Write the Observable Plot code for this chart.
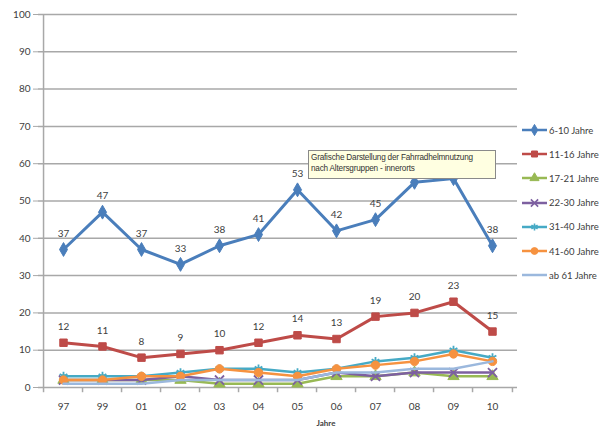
<!DOCTYPE html>
<html>
<head>
<meta charset="utf-8">
<script src="https://cdn.jsdelivr.net/npm/d3@7"></script>
<script src="https://cdn.jsdelivr.net/npm/@observablehq/plot@0.6"></script>
<style>
  body { margin: 0; background: #fff; }
  #wrap { position: relative; width: 607px; height: 432px; font-family: Lato, "Open Sans", sans-serif; }
  #tip { position: absolute; left: 308px; top: 150px; width: 184px; height: 26px; background: #ffffe1; border: 1px solid #8a8a8a;
         font: 8.2px "Liberation Sans", Arial, sans-serif; line-height: 11px; padding: 1px 0 0 2px; color: #333; letter-spacing: -0.2px; white-space: nowrap; }
  #legend { position: absolute; left: 521px; top: 0; }
  .li { position: absolute; left: 0; display: flex; align-items: center; font-size: 9.5px; color: #404040; white-space: nowrap; }
</style>
</head>
<body>
<div id="wrap"></div>
<script>
const years = ["97","99","01","02","03","04","05","06","07","08","09","10"];
const s6_10  = [37,47,37,33,38,41,53,42,45,55,56,38];
const s11_16 = [12,11,8,9,10,12,14,13,19,20,23,15];
const s17_21 = [2,2,2,2,1,1,1,3,3,4,3,3];
const s22_30 = [2,2,2,3,2,2,2,4,3,4,4,4];
const s31_40 = [3,3,3,4,5,5,4,5,7,8,10,8];
const s41_60 = [2,2,3,3,5,4,3,5,6,7,9,7];
const s61    = [1,1,1,2,2,2,2,4,4,5,5,7];
// data labels as visible in the reference (08 and 09 of 6-10 Jahre are hidden behind the note)
const labels6_10  = ["37","47","37","33","38","41","53","42","45","","","38"];
const labels11_16 = ["12","11","8","9","10","12","14","13","19","20","23","15"];
const seriesNames = ["6-10 Jahre","11-16 Jahre","17-21 Jahre","22-30 Jahre","31-40 Jahre","41-60 Jahre","ab 61 Jahre"];
const yTicks = [0,10,20,30,40,50,60,70,80,90,100];
const tipLines = ["Grafische Darstellung der Fahrradhelmnutzung", "nach Altersgruppen - innerorts"];
const xLabel = "Jahre";

const seriesVals = [s6_10, s11_16, s17_21, s22_30, s31_40, s41_60, s61];
const seriesLabels = [labels6_10, labels11_16, null, null, null, null, null];
const colors = ["#4a7ebb","#be4b48","#98b954","#7d60a0","#46aac5","#f69240","#9bb8dd"];
const symbols = ["diamond","square","triangle","times","asterisk","circle",null];
const filled = [true,true,true,false,false,true,false];
const widths = [3,3,2.5,2.5,2.5,2.5,2.5];

const W = 607, H = 432, mL = 38, mR = 90, mT = 14, mB = 45;
const step = (W - mL - mR) / years.length;

const marks = [
  Plot.ruleY(yTicks, {stroke: "#a8a8a8", strokeWidth: 1.5}),
  Plot.ruleX([years[0]], {dx: -step/2, y1: 0, y2: 100, stroke: "#a8a8a8", strokeWidth: 1.5}),
  Plot.ruleX(years, {dx: -step/2, y1: 0, y2: -1.4, stroke: "#a8a8a8", strokeWidth: 1.5}),
  Plot.ruleX([years[years.length-1]], {dx: step/2, y1: 0, y2: -1.4, stroke: "#a8a8a8", strokeWidth: 1.5}),
  Plot.axisY({ticks: yTicks, tickSize: 5, tickPadding: 3, fontSize: 10, color: "#404040", stroke: "#a8a8a8", label: null}),
  Plot.axisX({tickSize: 0, tickPadding: 15, fontSize: 10, color: "#404040", label: null}),
];

seriesVals.forEach((vals, i) => {
  const rows = years.map((y, j) => ({year: y, value: vals[j], label: seriesLabels[i] ? seriesLabels[i][j] : ""}));
  marks.push(Plot.line(rows, {x: "year", y: "value", stroke: colors[i], strokeWidth: widths[i]}));
  if (symbols[i]) {
    marks.push(Plot.dot(rows, {x: "year", y: "value", symbol: () => symbols[i], r: 4.2,
      fill: filled[i] ? colors[i] : "none", stroke: colors[i], strokeWidth: filled[i] ? 1 : 1.8}));
  }
  if (seriesLabels[i]) {
    marks.push(Plot.text(rows.filter(d => d.label), {x: "year", y: "value", text: "label", dy: -16, fontSize: 10, fill: "#404040"}));
  }
});

marks.push(Plot.text([xLabel], {frameAnchor: "bottom", dx: 48, dy: 38, fontSize: 8, fontWeight: "bold", fill: "#404040"}));

const chart = Plot.plot({
  width: W, height: H,
  marginLeft: mL, marginRight: mR, marginTop: mT, marginBottom: mB,
  style: {fontFamily: "Lato, 'Open Sans', sans-serif", background: "#fff", overflow: "visible"},
  x: {type: "point", domain: years, padding: 0.5},
  y: {domain: [0, 100]},
  symbol: {type: "identity"},
  marks
});

const wrap = document.getElementById("wrap");
wrap.appendChild(chart);

// legend
const legend = document.createElement("div");
legend.id = "legend";
wrap.appendChild(legend);
const symMap = {diamond: d3.symbolDiamond, square: d3.symbolSquare, triangle: d3.symbolTriangle,
  times: d3.symbolTimes, asterisk: d3.symbolAsterisk, circle: d3.symbolCircle};
seriesNames.forEach((name, i) => {
  const item = document.createElement("div");
  item.className = "li";
  item.style.top = (124 + i * 24.2) + "px";
  const svg = d3.create("svg").attr("width", 27).attr("height", 12);
  svg.append("line").attr("x1", 1).attr("x2", 26).attr("y1", 6).attr("y2", 6)
    .attr("stroke", colors[i]).attr("stroke-width", 2.5);
  if (symbols[i]) {
    svg.append("path").attr("transform", "translate(13.5,6)")
      .attr("d", d3.symbol(symMap[symbols[i]], 36)())
      .attr("fill", filled[i] ? colors[i] : "none").attr("stroke", colors[i]).attr("stroke-width", filled[i] ? 1 : 1.6);
  }
  item.appendChild(svg.node());
  const t = document.createElement("span");
  t.textContent = name;
  t.style.marginLeft = "1px";
  item.appendChild(t);
  legend.appendChild(item);
});

// note annotation
const tip = document.createElement("div");
tip.id = "tip";
tip.innerHTML = tipLines.map(s => `<div>${s}</div>`).join("");
wrap.appendChild(tip);
</script>
</body>
</html>
